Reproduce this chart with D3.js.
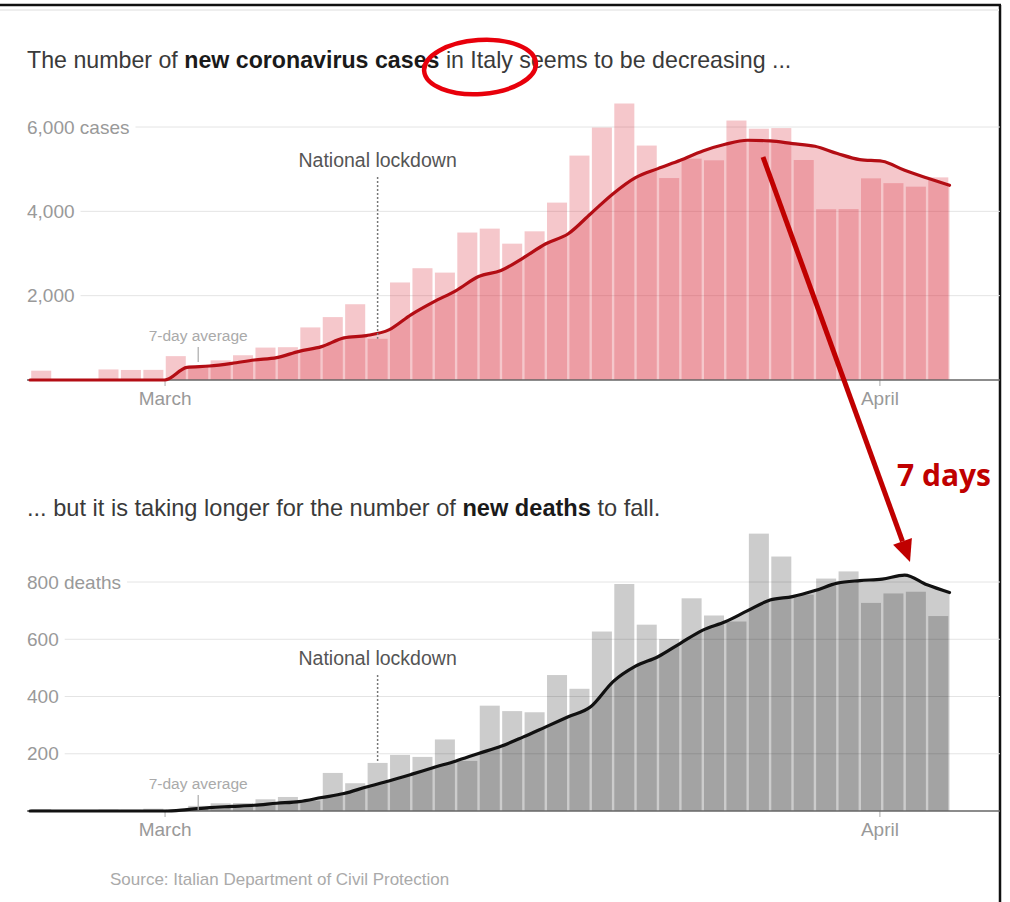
<!DOCTYPE html>
<html>
<head>
<meta charset="utf-8">
<title>Italy: new cases and new deaths</title>
<script src="https://cdn.jsdelivr.net/npm/d3@7"></script>
<style>
  body { margin: 0; background: #fff; }
  svg { display: block; font-family: "Liberation Sans", Arial, sans-serif; }
</style>
</head>
<body>
<svg id="chart" width="1010" height="902"></svg>
<script>
// ---- data (Feb 24 - Apr 4, 2020) ----
var parseDay = d3.timeParse("%Y-%m-%d");
var days = d3.timeDay.range(parseDay("2020-02-24"), parseDay("2020-04-05"));
// the 7-day average is drawn at the end of each day, starting with Feb 23
var avgDays = d3.timeDay.range(parseDay("2020-02-24"), parseDay("2020-04-06"));

var newCases = [221, 0, 0, 250, 238, 240,
  566, 342, 466, 587, 769, 778, 1247, 1492, 1797, 977,
  2313, 2651, 2547, 3497, 3590, 3233, 3526, 4207, 5322, 5986,
  6557, 5560, 4789, 5249, 5210, 6153, 5959, 5974, 5217, 4050, 4053,
  4782, 4668, 4585, 4805];
var casesAvg = [0, 0, 0, 0, 0, 0, 0,
  300, 332, 395, 475, 530, 680, 791, 998, 1053, 1188,
  1552, 1853, 2122, 2454, 2597, 2899, 3231, 3469, 3944, 4419,
  4800, 5013, 5210, 5432, 5591, 5686, 5670, 5607, 5543, 5370, 5227,
  5187, 4973, 4790, 4617];

var newDeaths = [7, 3, 2, 5, 4, 8,
  5, 18, 27, 28, 41, 49, 36, 133, 97, 168,
  196, 189, 250, 175, 368, 349, 345, 475, 427, 627,
  793, 651, 601, 743, 683, 662, 969, 889, 756, 812, 837,
  727, 760, 766, 681];
var deathsAvg = [0, 0, 0, 0, 0, 0, 0,
  5, 12, 16, 20, 27, 33, 47, 61, 84, 105,
  128, 152, 175, 201, 226, 259, 294, 329, 364, 452,
  506, 539, 586, 632, 661, 700, 737, 749, 770, 796, 805,
  810, 824, 790, 763];

var caseTicks = [2000, 4000, 6000];
var deathTicks = [200, 400, 600, 800];
var monthTicks = [new Date(2020, 2, 1), new Date(2020, 3, 1, 21)];
var monthNames = ["March", "April"];
var lockdownDay = parseDay("2020-03-10");
var avgLabelDay = parseDay("2020-03-02");

var svg = d3.select("#chart");
var x = d3.scaleTime()
    .domain([parseDay("2020-02-24"), parseDay("2020-04-05")])
    .range([30, 949.5]);
var step = x(days[1]) - x(days[0]);

// frame round the screenshot
svg.append("line").attr("x1", 0).attr("x2", 1001).attr("y1", 5).attr("y2", 5)
    .attr("stroke", "#111").attr("stroke-width", 2.5);
svg.append("line").attr("x1", 1000).attr("x2", 1000).attr("y1", 5).attr("y2", 902)
    .attr("stroke", "#111").attr("stroke-width", 2.5);
svg.append("line").attr("x1", 0).attr("x2", 999).attr("y1", 10).attr("y2", 10)
    .attr("stroke", "#eee").attr("stroke-width", 2);

function drawPanel(p) {
    var g = svg.append("g");
    var y = p.y;

    // title
    var t = g.append("text").attr("x", 27).attr("y", p.titleY)
        .attr("font-size", p.titleSize).attr("fill", "#333");
    p.title.forEach(function(part) {
        t.append("tspan").text(part[0])
            .attr("font-weight", part[1] ? "bold" : "normal")
            .attr("fill", part[1] ? "#1a1a1a" : "#3a3a3a");
    });

    // gridlines with labels
    p.ticks.forEach(function(v, i) {
        var lab = g.append("text").attr("x", 27).attr("y", y(v))
            .attr("dy", "0.35em").attr("font-size", 19).attr("fill", "#999")
            .text(d3.format(",")(v) + (i === p.ticks.length - 1 ? p.unit : ""));
        var w = lab.node().getComputedTextLength();
        g.insert("line", "text").attr("x1", 27 + w + 6).attr("x2", 1000)
            .attr("y1", y(v)).attr("y2", y(v))
            .attr("stroke", "#e4e4e4").attr("stroke-width", 1);
    });

    // area under the average
    var area = d3.area()
        .x(function(d, i) { return x(avgDays[i]); })
        .y0(y(0))
        .y1(function(d) { return y(d); })
        .curve(d3.curveMonotoneX);
    g.append("path").datum(p.avg).attr("d", area)
        .attr("fill", p.fill).attr("fill-opacity", p.opacity);

    // daily bars
    g.selectAll("rect.bar").data(p.values).enter().append("rect")
        .attr("class", "bar")
        .attr("x", function(d, i) { return x(days[i]) + 1.2; })
        .attr("width", step - 2.4)
        .attr("y", function(d) { return y(d); })
        .attr("height", function(d) { return y(0) - y(d); })
        .attr("fill", p.fill).attr("fill-opacity", p.opacity);

    // x axis
    var axis = d3.axisBottom(x).tickValues(monthTicks)
        .tickFormat(function(d, i) { return monthNames[i]; })
        .tickSize(6).tickPadding(6);
    var ax = g.append("g").attr("transform", "translate(0," + y(0) + ")").call(axis);
    ax.select(".domain").remove();
    ax.selectAll(".tick line").attr("stroke", "#aaa");
    ax.selectAll(".tick text").attr("font-size", 19).attr("fill", "#999")
        .attr("font-family", "Liberation Sans, Arial, sans-serif");
    g.append("line").attr("x1", 27).attr("x2", 1000)
        .attr("y1", y(0)).attr("y2", y(0))
        .attr("stroke", "#666").attr("stroke-width", 1.5);

    // 7-day average line
    var line = d3.line()
        .x(function(d, i) { return x(avgDays[i]); })
        .y(function(d) { return y(d); })
        .curve(d3.curveMonotoneX);
    g.append("path").datum(p.avg).attr("d", line)
        .attr("fill", "none").attr("stroke", p.lineColor)
        .attr("stroke-width", 3.2).attr("stroke-linejoin", "round").attr("stroke-linecap", "round");

    // lockdown note
    var lx = x(lockdownDay) + step / 2;
    var li = days.findIndex(function(d) { return +d === +lockdownDay; });
    g.append("line").attr("x1", lx).attr("x2", lx)
        .attr("y1", p.lockY + 10).attr("y2", y(p.values[li]))
        .attr("stroke", "#777").attr("stroke-width", 1.5).attr("stroke-dasharray", "2,2");
    g.append("text").attr("x", lx).attr("y", p.lockY).attr("text-anchor", "middle")
        .attr("font-size", 19.5).attr("fill", "#555").text("National lockdown");

    // 7-day average note
    var ax7 = x(avgLabelDay) + step / 2;
    g.append("text").attr("x", ax7).attr("y", p.avgLabelY).attr("text-anchor", "middle")
        .attr("font-size", 15.5).attr("fill", "#aaa").text("7-day average");
    g.append("line").attr("x1", ax7).attr("x2", ax7)
        .attr("y1", p.avgLabelY + 6).attr("y2", p.avgLabelY + 21)
        .attr("stroke", "#aaa").attr("stroke-width", 1.2);
}

drawPanel({
    y: d3.scaleLinear().domain([0, 6000]).range([380, 127]),
    ticks: caseTicks, unit: " cases",
    values: newCases, avg: casesAvg,
    fill: "#d6202e", opacity: 0.25, lineColor: "#b30d14",
    titleY: 68, titleSize: 23.2,
    title: [["The number of ", false], ["new coronavirus cases", true], [" in Italy seems to be decreasing ...", false]],
    lockY: 167, avgLabelY: 341
});

drawPanel({
    y: d3.scaleLinear().domain([0, 800]).range([811, 582]),
    ticks: deathTicks, unit: " deaths",
    values: newDeaths, avg: deathsAvg,
    fill: "#000", opacity: 0.2, lineColor: "#111",
    titleY: 516, titleSize: 23.6,
    title: [["... but it is taking longer for the number of ", false], ["new deaths", true], [" to fall.", false]],
    lockY: 665, avgLabelY: 789
});

// source
svg.append("text").attr("x", 110).attr("y", 885)
    .attr("font-size", 17).attr("fill", "#aaa")
    .text("Source: Italian Department of Civil Protection");

// red call-outs added on top of the screenshot
svg.append("ellipse").attr("cx", 480).attr("cy", 67).attr("rx", 56).attr("ry", 27)
    .attr("transform", "rotate(-4,480,67)")
    .attr("fill", "none").attr("stroke", "#e8000b").attr("stroke-width", 4.5);

var x0 = 763, y0 = 157, x1 = 910, y1 = 562;
var ang = Math.atan2(y1 - y0, x1 - x0);
var headLen = 22, headW = 10;
var bx = x1 - headLen * Math.cos(ang), by = y1 - headLen * Math.sin(ang);
svg.append("line").attr("x1", x0).attr("y1", y0).attr("x2", bx).attr("y2", by)
    .attr("stroke", "#c00000").attr("stroke-width", 5);
svg.append("path")
    .attr("d", "M" + x1 + "," + y1 +
        "L" + (bx + headW * Math.sin(ang)) + "," + (by - headW * Math.cos(ang)) +
        "L" + (bx - headW * Math.sin(ang)) + "," + (by + headW * Math.cos(ang)) + "Z")
    .attr("fill", "#c00000");
svg.append("text").attr("x", 897).attr("y", 486)
    .attr("font-size", 30).attr("font-weight", "bold").attr("fill", "#c00000")
    .attr("font-family", "Open Sans, Liberation Sans, sans-serif")
    .text("7 days");
</script>
</body>
</html>
